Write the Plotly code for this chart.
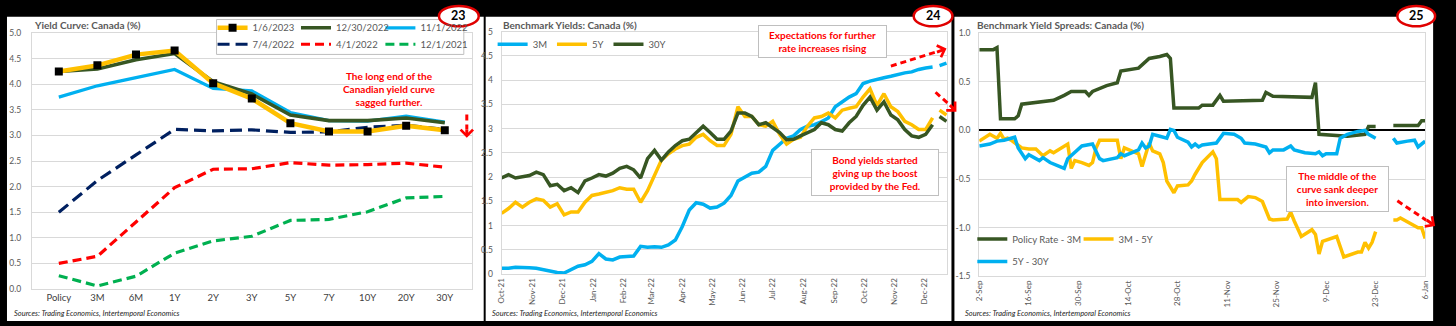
import pandas as pd
import plotly.graph_objects as go

W, H = 1456, 326
FONT = "Lato"
GRID = "#D9D9D9"
TICK = "#595959"

GOLD = "#FFC000"
DKGREEN = "#375623"
SKY = "#00B0F0"
NAVY = "#002060"
RED = "#FF0000"
GREEN = "#00B050"

# ---------------- Panel 1: yield curve snapshots ----------------
maturities = ["Policy", "3M", "6M", "1Y", "2Y", "3Y", "5Y", "7Y", "10Y", "20Y", "30Y"]
curve_2023_01_06 = [4.25, 4.37, 4.58, 4.66, 4.02, 3.72, 3.24, 3.08, 3.08, 3.19, 3.10]
curve_2022_12_30 = [4.25, 4.30, 4.48, 4.60, 4.05, 3.81, 3.40, 3.29, 3.29, 3.34, 3.25]
curve_2022_11_01 = [3.75, 3.97, 4.13, 4.29, 3.92, 3.87, 3.45, 3.29, 3.28, 3.38, 3.26]
curve_2022_07_04 = [1.50, 2.12, 2.62, 3.12, 3.09, 3.11, 3.06, 3.07, 3.16, 3.20, 3.12]
curve_2022_04_01 = [0.50, 0.64, 1.31, 1.98, 2.34, 2.35, 2.47, 2.42, 2.43, 2.46, 2.38]
curve_2021_12_01 = [0.26, 0.06, 0.25, 0.70, 0.94, 1.03, 1.34, 1.36, 1.51, 1.78, 1.81]

# ---------------- Panel 2: benchmark yields, weekly ----------------
bench_start = "2021-10-01"
bench_weeks = 65
bench_gap_date = "2022-12-12"   # no quotes over the holiday break
bench_gap_pos = 63
yield_3m = [0.12, 0.12, 0.14, 0.14, 0.13, 0.12, 0.09, 0.05, 0.03, 0.02, 0.10, 0.16, 0.19, 0.26, 0.42,
            0.31, 0.29, 0.35, 0.36, 0.37, 0.57, 0.55, 0.56, 0.55, 0.60, 0.70, 0.98, 1.32, 1.47, 1.44,
            1.36, 1.38, 1.46, 1.62, 1.92, 2.00, 2.08, 2.10, 2.22, 2.55, 2.68, 2.80, 2.85, 2.98, 3.05,
            3.08, 3.14, 3.22, 3.45, 3.56, 3.65, 3.72, 3.93, 3.98, 4.02, 4.05, 4.08, 4.12, 4.15, 4.17,
            4.22, 4.25, 4.27, None, 4.30, 4.35]
yield_5y = [1.25, 1.35, 1.48, 1.38, 1.48, 1.55, 1.52, 1.38, 1.45, 1.22, 1.28, 1.28, 1.48, 1.62, 1.65,
            1.68, 1.72, 1.78, 1.75, 1.75, 1.48, 1.72, 2.05, 2.35, 2.48, 2.58, 2.65, 2.68, 2.82, 2.88,
            2.75, 2.65, 2.65, 2.88, 3.45, 3.25, 3.25, 3.08, 3.05, 3.15, 2.88, 2.68, 2.78, 2.82, 3.05,
            3.22, 3.25, 3.32, 3.22, 3.38, 3.42, 3.45, 3.65, 3.82, 3.48, 3.72, 3.45, 3.35, 3.15, 3.08,
            2.98, 2.98, 3.22, None, 3.38, 3.28]
yield_30y = [1.98, 2.05, 1.98, 2.00, 2.03, 2.10, 2.05, 1.82, 1.85, 1.72, 1.78, 1.68, 1.92, 1.98, 2.05,
             2.02, 2.08, 2.18, 2.22, 2.15, 1.98, 2.38, 2.55, 2.35, 2.52, 2.65, 2.75, 2.78, 2.92, 3.05,
             2.92, 2.78, 2.78, 2.95, 3.32, 3.32, 3.25, 3.08, 3.12, 3.02, 2.92, 2.77, 2.78, 2.85, 2.92,
             2.98, 3.12, 3.08, 2.98, 2.95, 3.12, 3.25, 3.48, 3.65, 3.38, 3.55, 3.28, 3.18, 2.98, 2.85,
             2.82, 2.88, 3.08, None, 3.25, 3.15]
bench_month_labels_start = "2021-10-01"
bench_axis_end = "2022-12-24"

weekly = list(pd.date_range(bench_start, periods=bench_weeks, freq="7D"))
bench_dates = weekly[:bench_gap_pos] + [pd.Timestamp(bench_gap_date)] + weekly[bench_gap_pos:]

# ---------------- Panel 3: benchmark spreads ----------------
pr_3m_dates = ["2022-09-02", "2022-09-06", "2022-09-07", "2022-09-08", "2022-09-12", "2022-09-13",
               "2022-09-14", "2022-09-18", "2022-09-23", "2022-09-26", "2022-09-28", "2022-10-02",
               "2022-10-03", "2022-10-04", "2022-10-08", "2022-10-11", "2022-10-12", "2022-10-17",
               "2022-10-20", "2022-10-23", "2022-10-25", "2022-10-26", "2022-10-27", "2022-11-03",
               "2022-11-04", "2022-11-07", "2022-11-09", "2022-11-10", "2022-11-21", "2022-11-22",
               "2022-11-24", "2022-12-05", "2022-12-06", "2022-12-07", "2022-12-13", "2022-12-15",
               "2022-12-20", "2022-12-21", "2022-12-23", "2022-12-26", "2022-12-28", "2023-01-04",
               "2023-01-05", "2023-01-06"]
pr_3m = [0.83, 0.83, 0.85, 0.12, 0.12, 0.15, 0.27, 0.29, 0.31, 0.36, 0.40, 0.40, 0.36, 0.40, 0.46,
         0.49, 0.61, 0.64, 0.74, 0.76, 0.78, 0.74, 0.23, 0.23, 0.26, 0.26, 0.36, 0.30, 0.31, 0.39,
         0.35, 0.34, 0.49, -0.04, -0.05, -0.06, -0.04, 0.04, 0.04, None, 0.05, 0.05, 0.10, 0.10]

s3m_5y_dates = ["2022-09-02", "2022-09-05", "2022-09-07", "2022-09-08", "2022-09-09", "2022-09-10",
                "2022-09-11", "2022-09-13", "2022-09-14", "2022-09-16", "2022-09-18", "2022-09-20",
                "2022-09-22", "2022-09-23", "2022-09-27", "2022-09-28", "2022-09-29", "2022-10-01",
                "2022-10-03", "2022-10-04", "2022-10-05", "2022-10-06", "2022-10-11", "2022-10-12",
                "2022-10-13", "2022-10-15", "2022-10-17", "2022-10-18", "2022-10-19", "2022-10-20",
                "2022-10-21", "2022-10-23", "2022-10-24", "2022-10-25", "2022-10-27", "2022-10-28",
                "2022-10-31", "2022-11-01", "2022-11-02", "2022-11-04", "2022-11-07", "2022-11-08",
                "2022-11-09", "2022-11-14", "2022-11-15", "2022-11-17", "2022-11-19", "2022-11-21",
                "2022-11-23", "2022-11-24", "2022-11-28", "2022-11-29", "2022-11-30", "2022-12-02",
                "2022-12-05", "2022-12-06", "2022-12-07", "2022-12-08", "2022-12-12", "2022-12-13",
                "2022-12-14", "2022-12-18", "2022-12-19", "2022-12-20", "2022-12-21", "2022-12-22",
                "2022-12-23", "2022-12-26", "2022-12-28", "2022-12-29", "2022-12-30", "2023-01-01",
                "2023-01-04", "2023-01-05", "2023-01-06"]
s3m_5y = [-0.11, -0.04, -0.08, -0.03, -0.09, -0.08, -0.10, -0.16, -0.18, -0.19, -0.19, -0.26,
          -0.21, -0.23, -0.14, -0.39, -0.31, -0.33, -0.36, -0.33, -0.18, -0.10, -0.10, -0.29,
          -0.18, -0.21, -0.24, -0.37, -0.24, -0.13, -0.21, -0.24, -0.33, -0.52, -0.64, -0.57,
          -0.56, -0.52, -0.45, -0.33, -0.22, -0.29, -0.71, -0.71, -0.74, -0.68, -0.69, -0.73,
          -0.91, -0.92, -0.91, -0.84, -0.93, -1.09, -1.02, -1.07, -1.27, -1.14, -1.09, -1.19,
          -1.30, -1.25, -1.25, -1.15, -1.21, -1.15, -1.04, None, -0.92, -0.92, -0.90, -0.94,
          -1.00, -1.00, -1.11]

s5y_30y_dates = ["2022-09-02", "2022-09-05", "2022-09-07", "2022-09-09", "2022-09-12", "2022-09-13",
                 "2022-09-15", "2022-09-16", "2022-09-19", "2022-09-20", "2022-09-22", "2022-09-26",
                 "2022-09-27", "2022-09-29", "2022-10-01", "2022-10-04", "2022-10-06", "2022-10-07",
                 "2022-10-11", "2022-10-12", "2022-10-13", "2022-10-15", "2022-10-17", "2022-10-18",
                 "2022-10-19", "2022-10-20", "2022-10-21", "2022-10-23", "2022-10-25", "2022-10-26",
                 "2022-10-27", "2022-10-28", "2022-10-31", "2022-11-01", "2022-11-02", "2022-11-03",
                 "2022-11-04", "2022-11-06", "2022-11-08", "2022-11-10", "2022-11-13", "2022-11-15",
                 "2022-11-16", "2022-11-19", "2022-11-22", "2022-11-23", "2022-11-24", "2022-11-27",
                 "2022-11-29", "2022-11-30", "2022-12-03", "2022-12-06", "2022-12-07", "2022-12-08",
                 "2022-12-09", "2022-12-12", "2022-12-13", "2022-12-15", "2022-12-18", "2022-12-20",
                 "2022-12-21", "2022-12-23", "2022-12-26", "2022-12-28", "2022-12-29", "2023-01-01",
                 "2023-01-03", "2023-01-04", "2023-01-06"]
s5y_30y = [-0.16, -0.14, -0.11, -0.10, -0.07, -0.18, -0.29, -0.25, -0.31, -0.28, -0.33, -0.39,
           -0.29, -0.23, -0.16, -0.14, -0.29, -0.31, -0.28, -0.24, -0.26, -0.23, -0.20, -0.13,
           -0.18, -0.16, -0.04, -0.06, -0.08, 0.01, 0.00, -0.07, -0.12, -0.17, -0.14, -0.17,
           -0.15, -0.14, -0.13, -0.03, -0.04, -0.08, -0.13, -0.14, -0.17, -0.23, -0.20, -0.20,
           -0.16, -0.20, -0.23, -0.24, -0.22, -0.26, -0.24, -0.24, -0.08, -0.04, -0.01, 0.00,
           -0.04, -0.08, None, -0.08, -0.13, -0.11, -0.10, -0.17, -0.11]
spread_ticks = [1.0, 0.5, 0.0, -0.5, -1.0, -1.5]
spread_tick_labels = ["1.0", "0.5", "0.0", "-0.5", "-1.0", "-1.5"]
spread_axis_start = "2022-09-02"
spread_axis_end = "2023-01-06"


def fx(x):
    return x / W


def fy(y):
    return 1 - y / H


fig = go.Figure()

# ---- panel 1 traces (dashed history first, latest curve on top) ----
p1 = [
    ("12/1/2021", curve_2021_12_01, GREEN, "9px,5px", 3.2, "legend6"),
    ("4/1/2022", curve_2022_04_01, RED, "9px,5px", 3.2, "legend5"),
    ("7/4/2022", curve_2022_07_04, NAVY, "12px,6px", 3.2, "legend4"),
    ("11/1/2022", curve_2022_11_01, SKY, "solid", 3.2, "legend3"),
    ("12/30/2022", curve_2022_12_30, DKGREEN, "solid", 3.6, "legend2"),
]
for name, vals, col, dash, w, leg in p1:
    fig.add_trace(go.Scatter(x=maturities, y=vals, name=name, mode="lines",
                             line=dict(color=col, width=w, dash=dash),
                             xaxis="x", yaxis="y", legend=leg))
fig.add_trace(go.Scatter(x=maturities, y=curve_2023_01_06, name="1/6/2023", mode="lines+markers",
                         line=dict(color=GOLD, width=4.5),
                         marker=dict(symbol="square", size=8, color="black"),
                         xaxis="x", yaxis="y", legend="legend"))

# ---- panel 2 traces ----
for name, vals, col in [("3M", yield_3m, SKY), ("5Y", yield_5y, GOLD), ("30Y", yield_30y, DKGREEN)]:
    fig.add_trace(go.Scatter(x=bench_dates, y=vals, name=name, mode="lines",
                             line=dict(color=col, width=3.5), connectgaps=False,
                             xaxis="x2", yaxis="y2", legend="legend7"))

# ---- panel 3 traces ----
for name, xs, vals, col, leg in [("Policy Rate - 3M", pr_3m_dates, pr_3m, DKGREEN, "legend8"),
                                 ("3M - 5Y", s3m_5y_dates, s3m_5y, GOLD, "legend9"),
                                 ("5Y - 30Y", s5y_30y_dates, s5y_30y, SKY, "legend10")]:
    fig.add_trace(go.Scatter(x=xs, y=vals, name=name, mode="lines",
                             line=dict(color=col, width=3.5), connectgaps=False,
                             xaxis="x3", yaxis="y3", legend=leg))

tickfont = dict(family=FONT, size=8.5, color=TICK)
frame = dict(showline=True, linecolor=GRID, linewidth=1, mirror=True)

layout = dict(
    width=W, height=H, margin=dict(l=0, r=0, t=0, b=0),
    paper_bgcolor="black", plot_bgcolor="white",
    font=dict(family=FONT, color=TICK),
    xaxis=dict(domain=[fx(27), fx(470)], anchor="y", type="category", showgrid=False,
               ticks="", tickfont=dict(family=FONT, size=9.5, color="#404040"), **frame),
    yaxis=dict(domain=[fy(293), fy(29)], anchor="x", range=[0, 5], dtick=0.5, tickformat=".1f",
               gridcolor=GRID, zeroline=False, ticks="", tickfont=tickfont, ticklabelstandoff=8,
               **frame),
    xaxis2=dict(domain=[fx(500), fx(949)], anchor="y2", type="date",
                range=[bench_month_labels_start, bench_axis_end], tick0=bench_month_labels_start,
                dtick="M1", tickformat="%b-%y", tickangle=-90, showgrid=False, ticks="",
                tickfont=dict(family=FONT, size=8, color=TICK), **frame),
    yaxis2=dict(domain=[fy(277.5), fy(27.5)], anchor="x2", range=[0, 5], dtick=0.5,
                gridcolor=GRID, zeroline=False, ticks="", tickfont=tickfont, ticklabelstandoff=6,
                **frame),
    xaxis3=dict(domain=[fx(981), fx(1430)], anchor="y3", type="date",
                range=[spread_axis_start, spread_axis_end], tick0=spread_axis_start,
                dtick=14 * 86400000, tickformat="%-d-%b", tickangle=-90, showgrid=False, ticks="",
                tickfont=dict(family=FONT, size=8, color=TICK), **frame),
    yaxis3=dict(domain=[fy(280), fy(29)], anchor="x3", range=[-1.5, 1.0],
                tickvals=spread_ticks, ticktext=spread_tick_labels,
                gridcolor=GRID, zeroline=True, zerolinecolor="black", zerolinewidth=2,
                ticks="", tickfont=tickfont, ticklabelstandoff=6, **frame),
    showlegend=True,
)

# legends: position given by where each entry's label text starts
TEXT_OFF = 40
leg_pos = {
    "legend": (249, 25), "legend2": (333, 25), "legend3": (418, 25),
    "legend4": (249, 42), "legend5": (333, 42), "legend6": (418, 42),
    "legend7": (531, 42),
    "legend8": (1014, 243), "legend9": (1121, 243), "legend10": (1014, 266),
}
for key, (tx, ty) in leg_pos.items():
    layout[key] = dict(x=fx(tx - TEXT_OFF), y=fy(ty - 1.5), xanchor="left", yanchor="middle",
                       orientation="h", bgcolor="rgba(0,0,0,0)", borderwidth=0,
                       font=dict(family=FONT, size=9.5, color=TICK), itemwidth=30)
fig.update_layout(**layout)

shapes = []
# white panels on black page
for x0, x1 in [(2, 482), (484, 953), (956, 1438)]:
    shapes.append(dict(type="rect", xref="paper", yref="paper", x0=fx(x0), x1=fx(x1),
                       y0=fy(H), y1=fy(12), fillcolor="white", line=dict(width=0), layer="below"))
# legend frame in panel 1
shapes.append(dict(type="rect", xref="paper", yref="paper", x0=fx(213), x1=fx(462),
                   y0=fy(51), y1=fy(15), fillcolor="white", line=dict(color="#BFBFBF", width=1),
                   layer="above"))
# dashed arrow shafts
for (x0, y0, x1, y1) in [(465, 113, 465, 128), (892, 63, 939, 48), (937, 90, 951, 103),
                         (1402, 202, 1431, 222)]:
    shapes.append(dict(type="line", xref="paper", yref="paper", x0=fx(x0), y0=fy(y0),
                       x1=fx(x1), y1=fy(y1), line=dict(color=RED, width=3, dash="6px,4px"),
                       layer="above"))
# page badges
for x0, x1 in [(437, 477), (915, 954), (1402, 1440)]:
    shapes.append(dict(type="circle", xref="paper", yref="paper", x0=fx(x0), x1=fx(x1),
                       y0=fy(22), y1=fy(1), fillcolor="white", line=dict(color="#E00000", width=2.5),
                       layer="above"))
fig.update_layout(shapes=shapes)

ann = []
titles = [(27, "Yield Curve: Canada (%)"), (499, "Benchmark Yields: Canada (%)"),
          (977, "Benchmark Yield Spreads: Canada (%)")]
for x, t in titles:
    ann.append(dict(x=fx(x), y=fy(21), xref="paper", yref="paper", xanchor="left", yanchor="middle",
                    text="<b>" + t + "</b>", showarrow=False,
                    font=dict(family=FONT, size=10, color=TICK)))
for x in (7, 488, 965):
    ann.append(dict(x=fx(x), y=fy(318), xref="paper", yref="paper", xanchor="left", yanchor="middle",
                    text="<i>Sources: Trading Economics, Intertemporal Economics</i>", showarrow=False,
                    font=dict(family=FONT, size=7.5, color="#262626")))
for cx, t in [(457, "23"), (934.5, "24"), (1421, "25")]:
    ann.append(dict(x=fx(cx), y=fy(10.5), xref="paper", yref="paper", xanchor="center",
                    yanchor="middle", text="<b>" + t + "</b>", showarrow=False, height=13,
                    font=dict(family=FONT, size=12.5, color="black")))
# commentary
ann.append(dict(x=fx(387), y=fy(87), xref="paper", yref="paper", xanchor="center", yanchor="middle",
                text="<b>The long end of the<br>Canadian yield curve<br>sagged further.</b>",
                showarrow=False, font=dict(family=FONT, size=10, color=RED)))
boxed = [
    (823.5, 37.5, 127, 31, "<b>Expectations for further<br>rate increases rising</b>"),
    (876, 172.5, 126, 45, "<b>Bond yields started<br>giving up the boost<br>provided by the Fed.</b>"),
    (1341.5, 190, 101, 44, "<b>The middle of the<br>curve sank deeper<br>into inversion.</b>"),
]
for cx, cy, w, h, t in boxed:
    ann.append(dict(x=fx(cx), y=fy(cy), xref="paper", yref="paper", xanchor="center",
                    yanchor="middle", text=t, showarrow=False, width=w, height=h,
                    bgcolor="white", bordercolor="#BFBFBF", borderwidth=1, borderpad=0,
                    font=dict(family=FONT, size=10, color=RED)))
# arrow heads
for (tx, ty, ax, ay) in [(465, 137, 0, -10), (948, 45, -11, 4), (958, 110, -8, -8),
                         (1440, 228, -10, -7)]:
    ann.append(dict(x=fx(tx), y=fy(ty), xref="paper", yref="paper", ax=ax, ay=ay, text="",
                    showarrow=True, arrowhead=4, arrowsize=0.8, arrowwidth=3, arrowcolor=RED,
                    standoff=0))
fig.update_layout(annotations=ann)

fig.write_html("out.html", config={"displayModeBar": False})
